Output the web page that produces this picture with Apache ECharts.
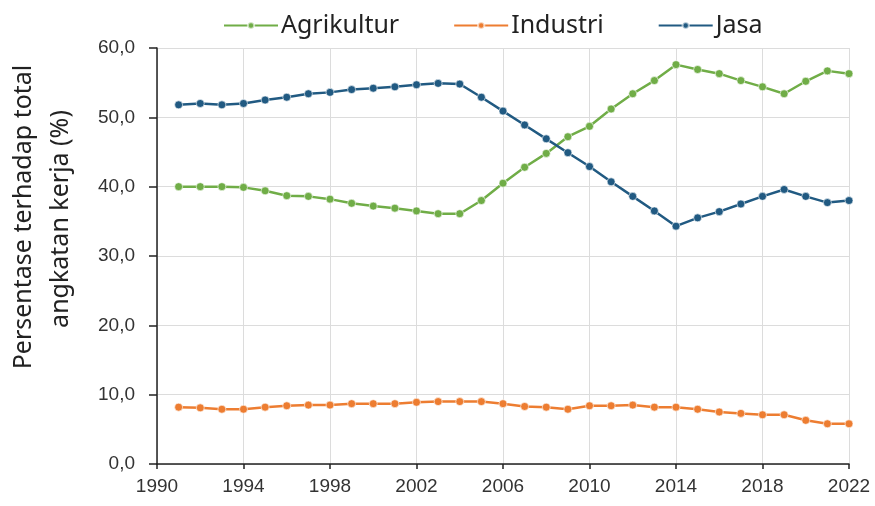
<!DOCTYPE html>
<html>
<head>
<meta charset="utf-8">
<script src="https://cdn.jsdelivr.net/npm/echarts@6/dist/echarts.min.js"></script>
<style>
  html, body { margin: 0; padding: 0; background: #fff; }
  #chart { width: 875px; height: 506px; }
</style>
</head>
<body>
<div id="chart"></div>
<script>
const years = [1991, 1992, 1993, 1994, 1995, 1996, 1997, 1998, 1999, 2000, 2001, 2002, 2003, 2004, 2005, 2006,
  2007, 2008, 2009, 2010, 2011, 2012, 2013, 2014, 2015, 2016, 2017, 2018, 2019, 2020, 2021, 2022]
const agrikultur = [40.0, 40.0, 40.0, 39.9, 39.4, 38.7, 38.6, 38.2, 37.6, 37.2, 36.9, 36.5, 36.1, 36.1, 38.0, 40.5,
  42.8, 44.8, 47.2, 48.7, 51.2, 53.4, 55.3, 57.6, 56.9, 56.3, 55.3, 54.4, 53.4, 55.2, 56.7, 56.3]
const industri = [8.2, 8.1, 7.9, 7.9, 8.2, 8.4, 8.5, 8.5, 8.7, 8.7, 8.7, 8.9, 9.0, 9.0, 9.0, 8.7,
  8.3, 8.2, 7.9, 8.4, 8.4, 8.5, 8.2, 8.2, 7.9, 7.5, 7.3, 7.1, 7.1, 6.3, 5.8, 5.8]
const jasa = [51.8, 52.0, 51.8, 52.0, 52.5, 52.9, 53.4, 53.6, 54.0, 54.2, 54.4, 54.7, 54.9, 54.8, 52.9, 50.9,
  48.9, 46.9, 44.9, 42.9, 40.7, 38.6, 36.5, 34.3, 35.5, 36.4, 37.5, 38.6, 39.6, 38.6, 37.7, 38.0]

const names = ['Agrikultur', 'Industri', 'Jasa']
const colors = ['#70ad47', '#ed7d31', '#215a82']
const yTitle = ['Persentase terhadap total', 'angkatan kerja (%)']

const chart = echarts.init(document.getElementById('chart'))

function makeSeries(name, values, color) {
  return {
    name: name,
    type: 'line',
    data: years.map((y, i) => [y, values[i]]),
    symbol: 'circle',
    symbolSize: 8,
    itemStyle: { color: color, borderColor: 'rgba(255,255,255,0.6)', borderWidth: 1 },
    lineStyle: { color: color, width: 2.5 }
  }
}

chart.setOption({
  animation: false,
  textStyle: { fontFamily: 'Liberation Sans' },
  legend: {
    top: 8,
    left: 218,
    itemGap: 54,
    itemWidth: 54,
    itemHeight: 8,
    textStyle: { fontFamily: 'Noto Sans', fontSize: 25, color: '#222', padding: [0, 0, 0, -2] },
    data: names
  },
  graphic: [
    {
      type: 'text', x: 24, y: 217, rotation: Math.PI / 2,
      style: { text: yTitle[0], fontFamily: 'Noto Sans', fontSize: 25, fill: '#222', align: 'center', verticalAlign: 'middle' }
    },
    {
      type: 'text', x: 61, y: 219, rotation: Math.PI / 2,
      style: { text: yTitle[1], fontFamily: 'Noto Sans', fontSize: 25, fill: '#222', align: 'center', verticalAlign: 'middle' }
    }
  ],
  grid: { left: 157, right: 26, top: 48, bottom: 42 },
  xAxis: {
    type: 'value',
    min: 1990,
    max: 2022,
    interval: 4,
    axisLine: { lineStyle: { color: '#222', width: 1.5 } },
    axisTick: { show: true, length: 5, lineStyle: { color: '#222', width: 1.5 } },
    axisLabel: { color: '#333', fontSize: 19, margin: 13, formatter: v => String(v) },
    splitLine: { show: true, lineStyle: { color: '#dcdcdc' } }
  },
  yAxis: {
    type: 'value',
    min: 0,
    max: 60,
    interval: 10,
    axisLine: { show: true, lineStyle: { color: '#222', width: 1.5 } },
    axisTick: { show: true, length: 8, lineStyle: { color: '#222', width: 1.5 } },
    axisLabel: {
      color: '#333', fontSize: 19, margin: 22,
      formatter: v => v.toFixed(1).replace('.', ',')
    },
    splitLine: { show: true, lineStyle: { color: '#dcdcdc' } }
  },
  series: [
    makeSeries(names[0], agrikultur, colors[0]),
    makeSeries(names[1], industri, colors[1]),
    makeSeries(names[2], jasa, colors[2])
  ]
})
</script>
</body>
</html>
